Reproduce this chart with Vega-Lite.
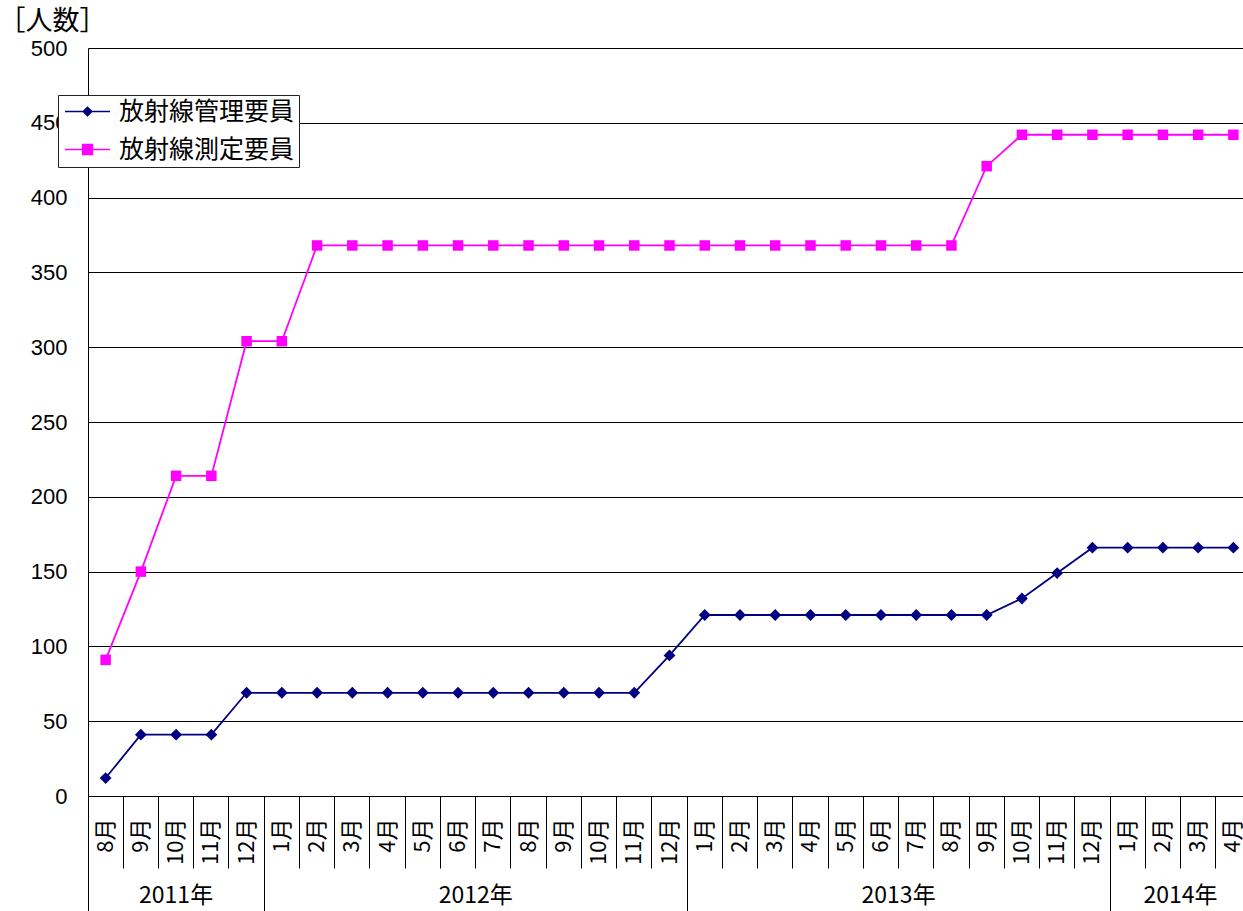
{
  "$schema": "https://vega.github.io/schema/vega-lite/v6.json",
  "autosize": {"type": "none"},
  "padding": {"left": 88, "top": 48, "right": 0, "bottom": 115},
  "width": 1163,
  "height": 748,
  "background": "white",
  "config": {"view": {"stroke": null}},
  "datasets": {
    "d": [
      {"key": "2011-08", "series": "放射線管理要員", "value": 12},
      {"key": "2011-09", "series": "放射線管理要員", "value": 41},
      {"key": "2011-10", "series": "放射線管理要員", "value": 41},
      {"key": "2011-11", "series": "放射線管理要員", "value": 41},
      {"key": "2011-12", "series": "放射線管理要員", "value": 69},
      {"key": "2012-01", "series": "放射線管理要員", "value": 69},
      {"key": "2012-02", "series": "放射線管理要員", "value": 69},
      {"key": "2012-03", "series": "放射線管理要員", "value": 69},
      {"key": "2012-04", "series": "放射線管理要員", "value": 69},
      {"key": "2012-05", "series": "放射線管理要員", "value": 69},
      {"key": "2012-06", "series": "放射線管理要員", "value": 69},
      {"key": "2012-07", "series": "放射線管理要員", "value": 69},
      {"key": "2012-08", "series": "放射線管理要員", "value": 69},
      {"key": "2012-09", "series": "放射線管理要員", "value": 69},
      {"key": "2012-10", "series": "放射線管理要員", "value": 69},
      {"key": "2012-11", "series": "放射線管理要員", "value": 69},
      {"key": "2012-12", "series": "放射線管理要員", "value": 94},
      {"key": "2013-01", "series": "放射線管理要員", "value": 121},
      {"key": "2013-02", "series": "放射線管理要員", "value": 121},
      {"key": "2013-03", "series": "放射線管理要員", "value": 121},
      {"key": "2013-04", "series": "放射線管理要員", "value": 121},
      {"key": "2013-05", "series": "放射線管理要員", "value": 121},
      {"key": "2013-06", "series": "放射線管理要員", "value": 121},
      {"key": "2013-07", "series": "放射線管理要員", "value": 121},
      {"key": "2013-08", "series": "放射線管理要員", "value": 121},
      {"key": "2013-09", "series": "放射線管理要員", "value": 121},
      {"key": "2013-10", "series": "放射線管理要員", "value": 132},
      {"key": "2013-11", "series": "放射線管理要員", "value": 149},
      {"key": "2013-12", "series": "放射線管理要員", "value": 166},
      {"key": "2014-01", "series": "放射線管理要員", "value": 166},
      {"key": "2014-02", "series": "放射線管理要員", "value": 166},
      {"key": "2014-03", "series": "放射線管理要員", "value": 166},
      {"key": "2014-04", "series": "放射線管理要員", "value": 166},
      {"key": "2011-08", "series": "放射線測定要員", "value": 91},
      {"key": "2011-09", "series": "放射線測定要員", "value": 150},
      {"key": "2011-10", "series": "放射線測定要員", "value": 214},
      {"key": "2011-11", "series": "放射線測定要員", "value": 214},
      {"key": "2011-12", "series": "放射線測定要員", "value": 304},
      {"key": "2012-01", "series": "放射線測定要員", "value": 304},
      {"key": "2012-02", "series": "放射線測定要員", "value": 368},
      {"key": "2012-03", "series": "放射線測定要員", "value": 368},
      {"key": "2012-04", "series": "放射線測定要員", "value": 368},
      {"key": "2012-05", "series": "放射線測定要員", "value": 368},
      {"key": "2012-06", "series": "放射線測定要員", "value": 368},
      {"key": "2012-07", "series": "放射線測定要員", "value": 368},
      {"key": "2012-08", "series": "放射線測定要員", "value": 368},
      {"key": "2012-09", "series": "放射線測定要員", "value": 368},
      {"key": "2012-10", "series": "放射線測定要員", "value": 368},
      {"key": "2012-11", "series": "放射線測定要員", "value": 368},
      {"key": "2012-12", "series": "放射線測定要員", "value": 368},
      {"key": "2013-01", "series": "放射線測定要員", "value": 368},
      {"key": "2013-02", "series": "放射線測定要員", "value": 368},
      {"key": "2013-03", "series": "放射線測定要員", "value": 368},
      {"key": "2013-04", "series": "放射線測定要員", "value": 368},
      {"key": "2013-05", "series": "放射線測定要員", "value": 368},
      {"key": "2013-06", "series": "放射線測定要員", "value": 368},
      {"key": "2013-07", "series": "放射線測定要員", "value": 368},
      {"key": "2013-08", "series": "放射線測定要員", "value": 368},
      {"key": "2013-09", "series": "放射線測定要員", "value": 421},
      {"key": "2013-10", "series": "放射線測定要員", "value": 442},
      {"key": "2013-11", "series": "放射線測定要員", "value": 442},
      {"key": "2013-12", "series": "放射線測定要員", "value": 442},
      {"key": "2014-01", "series": "放射線測定要員", "value": 442},
      {"key": "2014-02", "series": "放射線測定要員", "value": 442},
      {"key": "2014-03", "series": "放射線測定要員", "value": 442},
      {"key": "2014-04", "series": "放射線測定要員", "value": 442}
    ]
  },
  "data": {"name": "d"},
  "resolve": {"axis": {"x": "independent"}},
  "layer": [
    {
      "mark": {"type": "line", "strokeWidth": 1.8},
      "encoding": {
        "x": {
          "field": "key", "type": "ordinal",
          "scale": {"type": "band", "paddingInner": 0, "paddingOuter": 0},
          "axis": {
            "orient": "bottom", "title": null, "grid": false,
            "bandPosition": 0,
            "domainColor": "black", "domainWidth": 1,
            "tickColor": "black", "tickWidth": 1,
            "tickSize": {"condition": {"test": "indexof(['2011-08','2012-01','2013-01','2014-01'], datum.value) >= 0", "value": 115}, "value": 72},
            "labelPadding": {"condition": {"test": "indexof(['2011-08','2012-01','2013-01','2014-01'], datum.value) >= 0", "value": -93}, "value": -50},
            "labelAngle": -90, "labelAlign": "right", "labelBaseline": "middle",
            "labelExpr": "toNumber(slice(datum.value, 5)) + '月'",
            "labelFont": "Noto Sans CJK JP", "labelFontSize": 22, "labelColor": "black",
            "labelOverlap": false
          }
        },
        "y": {
          "field": "value", "type": "quantitative",
          "scale": {"domain": [0, 500]},
          "axis": {
            "title": "［人数］", "titleAngle": 0, "titleAlign": "left", "titleBaseline": "middle",
            "titleX": -90, "titleY": -27,
            "titleFont": "Noto Sans CJK JP", "titleFontSize": 27, "titleFontWeight": "normal", "titleColor": "black",
            "values": [0, 50, 100, 150, 200, 250, 300, 350, 400, 450, 500],
            "labelFont": "Liberation Sans", "labelFontSize": 22, "labelColor": "black", "labelPadding": 21,
            "ticks": false, "grid": true, "gridColor": "black", "gridWidth": 1,
            "domainColor": "black", "domainWidth": 1
          }
        },
        "color": {
          "field": "series", "type": "nominal",
          "scale": {"domain": ["放射線管理要員", "放射線測定要員"], "range": ["#000080", "#FF00FF"]}
        }
      }
    },
    {
      "transform": [{"filter": "datum.series == '放射線管理要員'"}],
      "mark": {"type": "point", "shape": "diamond", "filled": true, "size": 140, "opacity": 1},
      "encoding": {
        "x": {
          "field": "key", "type": "ordinal",
          "axis": {
            "orient": "bottom", "title": null, "grid": false, "ticks": false, "domain": false,
            "values": ["2011-10", "2012-07", "2013-07", "2014-03"],
            "labelExpr": "slice(datum.value, 0, 4) + '年'",
            "labelOffset": {"condition": {"test": "datum.value == '2011-10'", "value": 0}, "value": -17.6},
            "labelAngle": 0, "labelAlign": "center", "labelBaseline": "top",
            "labelPadding": 88,
            "labelFont": "Noto Sans CJK JP", "labelFontSize": 23, "labelColor": "black"
          }
        },
        "y": {"field": "value", "type": "quantitative"},
        "color": {"field": "series", "type": "nominal"}
      }
    },
    {
      "transform": [{"filter": "datum.series == '放射線測定要員'"}],
      "mark": {"type": "point", "shape": "square", "filled": true, "size": 110, "opacity": 1},
      "encoding": {
        "x": {"field": "key", "type": "ordinal", "axis": null},
        "y": {"field": "value", "type": "quantitative"},
        "color": {"field": "series", "type": "nominal"}
      }
    },
    {
      "mark": {"type": "point", "filled": true, "opacity": 0},
      "encoding": {
        "x": {"field": "key", "type": "ordinal", "axis": null},
        "y": {"field": "value", "type": "quantitative"},
        "color": {
          "field": "series", "type": "nominal",
          "legend": {
            "title": null, "orient": "none", "legendX": -30, "legendY": 47, "direction": "vertical",
            "fillColor": "white", "strokeColor": "#222", "padding": 4,
            "symbolOffset": 13, "symbolSize": 506, "symbolStrokeWidth": 1.5, "symbolOpacity": 1,
            "labelFont": "Noto Sans CJK JP", "labelFontSize": 25, "labelColor": "black",
            "labelOffset": 19, "rowPadding": 12, "labelLimit": 400,
            "encode": {"symbols": {"update": {"stroke": {"scale": "color", "field": "value"}}}}
          }
        },
        "shape": {
          "field": "series", "type": "nominal",
          "scale": {
            "domain": ["放射線管理要員", "放射線測定要員"],
            "range": ["M-2,0H2M0,-0.38L0.38,0L0,0.38L-0.38,0Z", "M-2,0H2M-0.44,-0.44H0.44V0.44H-0.44Z"]
          },
          "legend": {
            "title": null, "orient": "none", "legendX": -30, "legendY": 47, "direction": "vertical",
            "fillColor": "white", "strokeColor": "#222", "padding": 4,
            "symbolOffset": 13, "symbolSize": 506, "symbolStrokeWidth": 1.5, "symbolOpacity": 1,
            "labelFont": "Noto Sans CJK JP", "labelFontSize": 25, "labelColor": "black",
            "labelOffset": 19, "rowPadding": 12, "labelLimit": 400,
            "encode": {"symbols": {"update": {"stroke": {"scale": "color", "field": "value"}}}}
          }
        }
      }
    }
  ]
}
